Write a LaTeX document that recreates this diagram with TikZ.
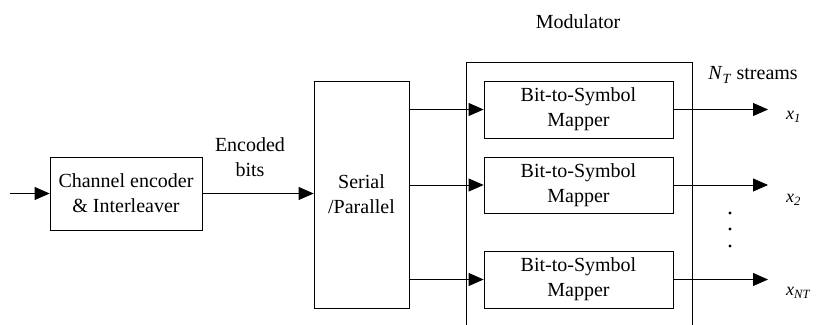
\documentclass[tikz,border=0pt]{standalone}
\usepackage{fontspec}
\setmainfont{Liberation Serif}
\newfontfamily\lblfont{Liberation Serif}
\usetikzlibrary{arrows.meta}
\begin{document}
\begin{tikzpicture}[x=1pt,y=1pt,
  every node/.style={inner sep=0pt,font=\lblfont\fontsize{20}{25}\selectfont},
  blk/.style={draw,line width=0.8pt,align=center},
  link/.style={line width=0.8pt,-{Triangle[length=15pt,width=13pt]}},
  sym/.style={font=\lblfont\fontsize{18}{22}\selectfont\itshape}]
\useasboundingbox (0,0) rectangle (819,-324);
% blocks
\node[blk,minimum width=152,minimum height=73] (enc) at (126,-193.5) {Channel encoder\\\& Interleaver};
\node[blk,minimum width=95,minimum height=227] (sp) at (361.5,-194.5) {Serial\\/Parallel};
\node[draw,line width=0.8pt,minimum width=226,minimum height=280] (mod) at (579,-202) {};
\node[blk,minimum width=189,minimum height=57] (m1) at (578.5,-109.5) {Bit-to-Symbol\\Mapper};
\node[blk,minimum width=189,minimum height=56] (m2) at (578.5,-185) {Bit-to-Symbol\\Mapper};
\node[blk,minimum width=189,minimum height=57] (m3) at (578.5,-279.5) {Bit-to-Symbol\\Mapper};
% labels
\node (modlbl) at (578,-22) {Modulator};
\node[align=center] (enclbl) at (250,-157) {Encoded\\bits};
\node (nt) at (753,-75) {\textit{N}\textsubscript{\textit{T}} streams};
\node[sym,anchor=west] (x1) at (786,-117) {x\textsubscript{1}};
\node[sym,anchor=west] (x2) at (786,-200) {x\textsubscript{2}};
\node[sym,anchor=west] (x3) at (786,-293) {x\textsubscript{NT}};
% free ends
\coordinate (src) at (10,-193.5);
\coordinate (o1) at (768,-109.5);
\coordinate (o2) at (768,-185);
\coordinate (o3) at (768,-279.5);
% connectors
\draw[link] (src) -- (enc.west);
\draw[link] (enc.east) -- (enc.east -| sp.west);
\draw[link] (m1.west -| sp.east) -- (m1.west);
\draw[link] (m2.west -| sp.east) -- (m2.west);
\draw[link] (m3.west -| sp.east) -- (m3.west);
\draw[link] (m1.east) -- (o1);
\draw[link] (m2.east) -- (o2);
\draw[link] (m3.east) -- (o3);
% vertical dots
\foreach \y in {-213,-229,-246} \fill (730,\y) circle (1.6);
\end{tikzpicture}
\end{document}
